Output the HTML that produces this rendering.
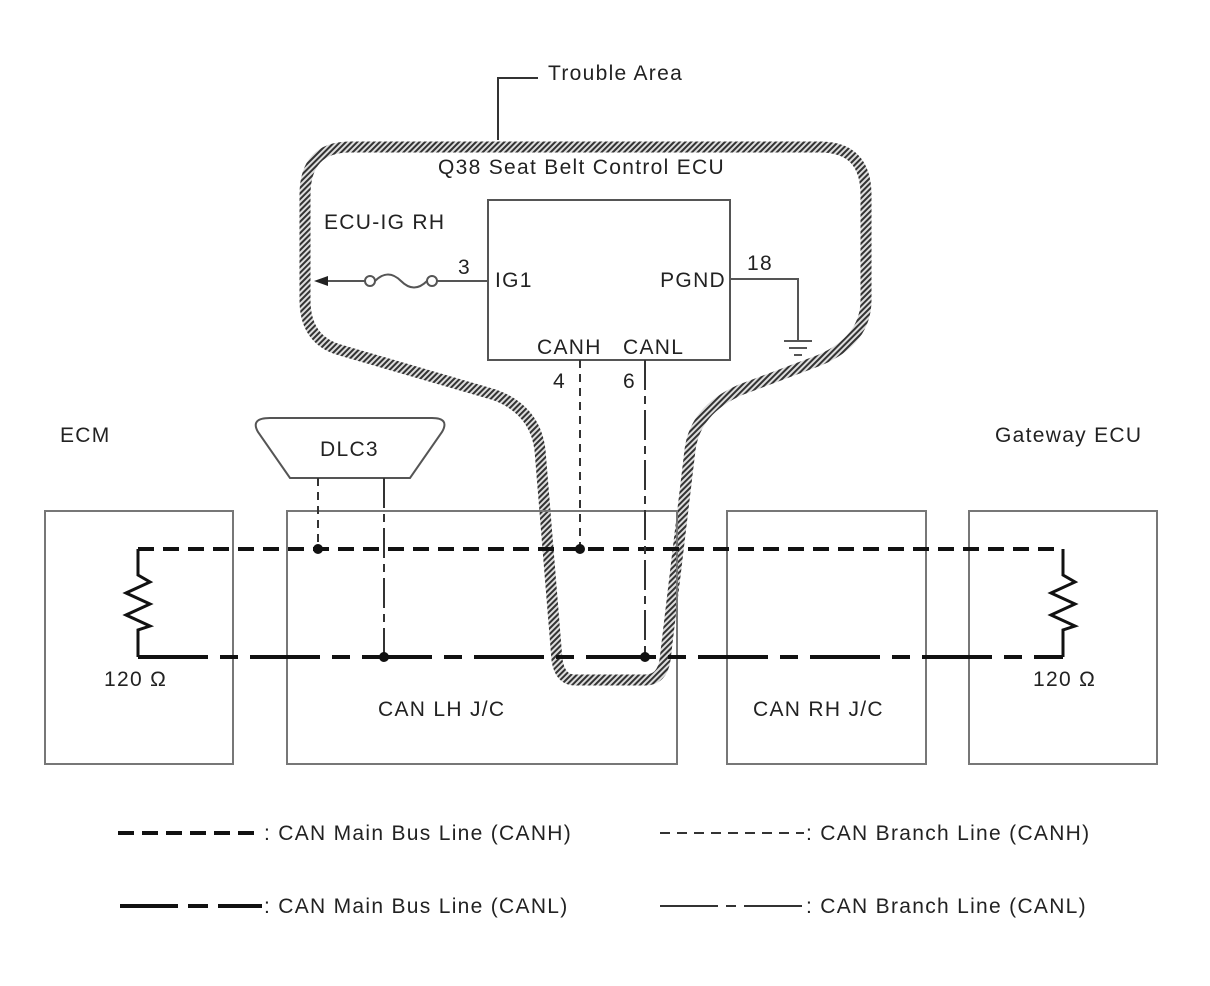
<!DOCTYPE html>
<html><head><meta charset="utf-8"><style>
body{margin:0;background:#fff}
svg{display:block}
text{font-family:"Liberation Sans",Arial,sans-serif;font-size:21px;letter-spacing:1.3px;fill:#222}
</style></head><body>
<svg width="1210" height="986" viewBox="0 0 1210 986" xmlns="http://www.w3.org/2000/svg">
<defs>
<pattern id="h" width="4" height="4" patternUnits="userSpaceOnUse" patternTransform="rotate(45)">
<rect width="4" height="4" fill="#ddd"/><rect width="2" height="4" fill="#333"/>
</pattern>
</defs>
<path d="M498 140 V78 H538" fill="none" stroke="#333" stroke-width="2"/>
<text x="548" y="80">Trouble Area</text>
<path d="M350 147 L820 147 Q866 147 866 195 L866 300 Q866 340 820 360 L740 390 Q695 410 690 450 L665 660 Q662 680 645 680 L575 680 Q560 680 557 660 L540 450 Q535 410 495 395 L340 350 Q305 340 305 300 L305 195 Q305 147 350 147 Z" fill="none" stroke="url(#h)" stroke-width="11"/>
<text x="438" y="174">Q38  Seat Belt Control ECU</text>
<text x="324" y="229">ECU-IG RH</text>
<rect x="488" y="200" width="242" height="160" fill="none" stroke="#555" stroke-width="2"/>
<text x="495" y="287">IG1</text>
<text x="726" y="287" text-anchor="end">PGND</text>
<text x="537" y="354">CANH</text>
<text x="623" y="354">CANL</text>
<text x="458" y="274">3</text>
<text x="747" y="270">18</text>
<text x="553" y="388">4</text>
<text x="623" y="388">6</text>
<path d="M488 281 H437 M365 281 H326" stroke="#555" stroke-width="2" fill="none"/>
<path d="M314 281 L328 276 V286 Z" fill="#222"/>
<circle cx="370" cy="281" r="5" fill="#fff" stroke="#555" stroke-width="2"/>
<circle cx="432" cy="281" r="5" fill="#fff" stroke="#555" stroke-width="2"/>
<path d="M375 281 Q388 268 401 281 Q414 294 427 281" fill="none" stroke="#555" stroke-width="2"/>
<path d="M730 279 H798 V340" stroke="#555" stroke-width="2" fill="none"/>
<path d="M784 341 H812 M789 348 H807 M794 355 H802" stroke="#555" stroke-width="2"/>
<g fill="none" stroke="#777" stroke-width="2">
<rect x="45" y="511" width="188" height="253"/>
<rect x="287" y="511" width="390" height="253"/>
<rect x="727" y="511" width="199" height="253"/>
<rect x="969" y="511" width="188" height="253"/>
</g>
<text x="60" y="442">ECM</text>
<text x="995" y="442">Gateway ECU</text>
<text x="378" y="716">CAN LH J/C</text>
<text x="753" y="716">CAN RH J/C</text>
<text x="104" y="686">120 Ω</text>
<text x="1033" y="686">120 Ω</text>
<path d="M270 418 H432 Q450 418 442 432 L410 478 H290 L258 432 Q250 418 270 418 Z" fill="#fff" stroke="#555" stroke-width="2"/>
<text x="320" y="456">DLC3</text>
<path d="M138 549 H1063" stroke="#111" stroke-width="4" stroke-dasharray="16 9" fill="none"/>
<path d="M138 657 H1063" stroke="#111" stroke-width="4" stroke-dasharray="70 12 18 12" fill="none"/>
<path d="M138 549 V575 L150 582 L126 593 L150 604 L126 615 L150 626 L138 630 V657" stroke="#111" stroke-width="3" fill="none"/>
<path d="M1063 549 V575 L1075 582 L1051 593 L1075 604 L1051 615 L1075 626 L1063 630 V657" stroke="#111" stroke-width="3" fill="none"/>
<path d="M318 478 V549 M580 360 V549" stroke="#333" stroke-width="2" stroke-dasharray="8 6" fill="none"/>
<path d="M384 478 V657 M645 360 V657" stroke="#333" stroke-width="2" stroke-dasharray="30 6 8 6" fill="none"/>
<g fill="#111"><circle cx="318" cy="549" r="5"/><circle cx="580" cy="549" r="5"/><circle cx="384" cy="657" r="5"/><circle cx="645" cy="657" r="5"/></g>
<path d="M118 833 H262" stroke="#111" stroke-width="4" stroke-dasharray="16 8"/>
<text x="264" y="840">: CAN Main Bus Line (CANH)</text>
<path d="M120 906 H262" stroke="#111" stroke-width="4" stroke-dasharray="58 10 20 10"/>
<text x="264" y="913">: CAN Main Bus Line (CANL)</text>
<path d="M660 833 H804" stroke="#333" stroke-width="2" stroke-dasharray="10 7"/>
<text x="806" y="840">: CAN Branch Line (CANH)</text>
<path d="M660 906 H804" stroke="#333" stroke-width="2" stroke-dasharray="58 8 10 8"/>
<text x="806" y="913">: CAN Branch Line (CANL)</text>
</svg>
</body></html>
